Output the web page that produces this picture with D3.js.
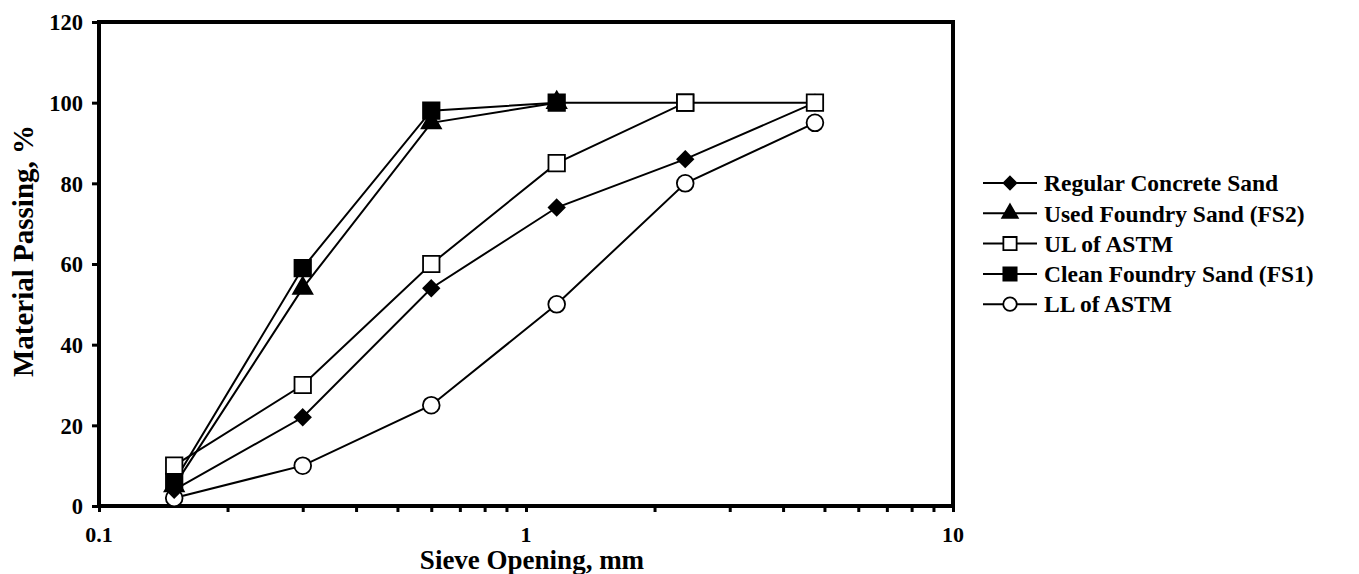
<!DOCTYPE html>
<html>
<head>
<meta charset="utf-8">
<script src="https://cdn.jsdelivr.net/npm/d3@7"></script>
<style>
    body { margin: 0; background: #fff; }
    text { font-family: "Liberation Serif", "Times New Roman", serif; font-weight: bold; fill: #000; }
</style>
</head>
<body>
<div id="chart"></div>
<script>
"use strict";

// Sieve openings (mm)
const sieves = [0.15, 0.3, 0.6, 1.18, 2.36, 4.75];
// Percent passing for each series
const regularSand = [4, 22, 54, 74, 86, 100];
const usedFoundrySand = [5, 54, 95, 100];
const ulAstm = [10, 30, 60, 85, 100, 100];
const cleanFoundrySand = [6, 59, 98, 100, 100];
const llAstm = [2, 10, 25, 50, 80, 95];
const yTicks = [0, 20, 40, 60, 80, 100, 120];
const xTicks = [0.1, 1, 10];

const legendOrder = [
    {name: "Regular Concrete Sand", values: regularSand, symbol: "diamond", fill: "#000"},
    {name: "Used Foundry Sand (FS2)", values: usedFoundrySand, symbol: "triangle", fill: "#000"},
    {name: "UL of ASTM", values: ulAstm, symbol: "square", fill: "#fff"},
    {name: "Clean Foundry Sand (FS1)", values: cleanFoundrySand, symbol: "square", fill: "#000"},
    {name: "LL of ASTM", values: llAstm, symbol: "circle", fill: "#fff"}
];
// drawing order (last is on top)
const drawOrder = [4, 0, 1, 3, 2];

const width = 1359, height = 574;
const margin = {left: 99, top: 22, right: 406, bottom: 68};
const plotW = width - margin.left - margin.right;
const plotH = height - margin.top - margin.bottom;

const svg = d3.select("#chart").append("svg")
    .attr("width", width)
    .attr("height", height);

const g = svg.append("g")
    .attr("transform", `translate(${margin.left},${margin.top})`);

const x = d3.scaleLog().domain([0.1, 10]).range([0, plotW]);
const y = d3.scaleLinear().domain([0, 120]).range([plotH, 0]);

// Minor and major ticks on the log axis
const allXTicks = [];
for (let d = 0.1; d < 10; d *= 10) {
    for (let k = 1; k <= 9; k++) allXTicks.push(+(d * k).toFixed(2));
}
allXTicks.push(10);

const xAxis = d3.axisBottom(x)
    .tickValues(allXTicks)
    .tickSize(6)
    .tickFormat(() => "");
g.append("g")
    .attr("class", "x_axis")
    .attr("transform", `translate(0,${plotH})`)
    .call(xAxis)
    .call(s => s.select(".domain").remove())
    .call(s => s.selectAll("line").attr("stroke-width", 3));

g.append("g")
    .selectAll("text")
    .data(xTicks)
    .join("text")
    .attr("x", d => x(d))
    .attr("y", plotH + 36)
    .attr("text-anchor", "middle")
    .style("font-size", "22px")
    .text(d => String(d));

const yAxis = d3.axisLeft(y)
    .tickValues(yTicks)
    .tickSize(7)
    .tickPadding(9)
    .tickFormat(d3.format("d"));
g.append("g")
    .attr("class", "y_axis")
    .call(yAxis)
    .call(s => s.select(".domain").remove())
    .call(s => s.selectAll("line").attr("stroke-width", 3))
    .call(s => s.selectAll("text")
        .style("font-size", "22.5px")
        .style("font-family", "Liberation Serif, serif")
        .style("font-weight", "bold")
        .attr("dy", "0.35em"));

// Frame
g.append("rect")
    .attr("width", plotW)
    .attr("height", plotH)
    .attr("fill", "none")
    .attr("stroke", "#000")
    .attr("stroke-width", 4);

const symbolTypes = {
    diamond: {type: d3.symbolDiamond2, size: 160},
    triangle: {type: d3.symbolTriangle, size: 160},
    square: {type: d3.symbolSquare, size: 270},
    circle: {type: d3.symbolCircle, size: 220}
};

const line = d3.line()
    .x((d, i) => x(sieves[i]))
    .y(d => y(d));

drawOrder.forEach(idx => {
    const s = legendOrder[idx];
    const sg = g.append("g");
    sg.append("path")
        .datum(s.values)
        .attr("fill", "none")
        .attr("stroke", "#000")
        .attr("stroke-width", 2)
        .attr("d", line);
    const sym = symbolTypes[s.symbol];
    sg.selectAll("path.marker")
        .data(s.values)
        .join("path")
        .attr("class", "marker")
        .attr("transform", (d, i) => `translate(${x(sieves[i])},${y(d)})`)
        .attr("d", d3.symbol().type(sym.type).size(sym.size))
        .attr("fill", s.fill)
        .attr("stroke", "#000")
        .attr("stroke-width", 1.8);
});

// Legend
const legend = svg.append("g").attr("transform", "translate(983,183)");
legendOrder.forEach((s, i) => {
    const row = legend.append("g").attr("transform", `translate(0,${i * 30.3})`);
    row.append("line")
        .attr("x1", 0).attr("x2", 54)
        .attr("stroke", "#000")
        .attr("stroke-width", 2);
    const sym = symbolTypes[s.symbol];
    row.append("path")
        .attr("transform", "translate(27,0)")
        .attr("d", d3.symbol().type(sym.type).size(sym.size * 0.65))
        .attr("fill", s.fill)
        .attr("stroke", "#000")
        .attr("stroke-width", 1.8);
    row.append("text")
        .attr("x", 61)
        .attr("dy", "0.35em")
        .style("font-size", "23.5px")
        .text(s.name);
});

// Axis titles
svg.append("text")
    .attr("text-anchor", "middle")
    .attr("transform", `translate(33,${margin.top + plotH / 2 - 13}) rotate(-90)`)
    .style("font-size", "29px")
    .text("Material Passing, %");

svg.append("text")
    .attr("text-anchor", "middle")
    .attr("x", margin.left + plotW / 2 + 6)
    .attr("y", 569)
    .style("font-size", "27px")
    .text("Sieve Opening, mm");
</script>
</body>
</html>
